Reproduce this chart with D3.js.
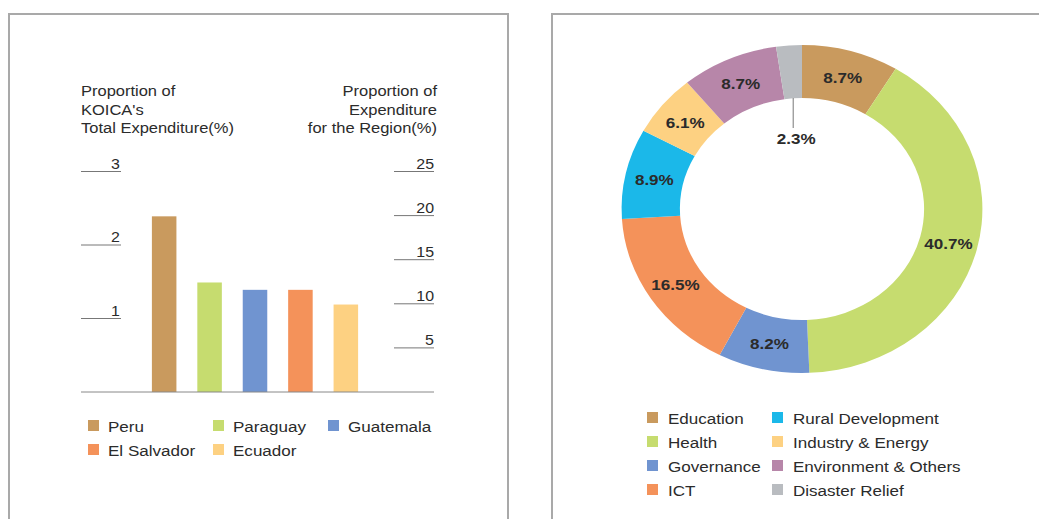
<!DOCTYPE html>
<html>
<head>
<meta charset="utf-8">
<script src="https://cdn.jsdelivr.net/npm/d3@7"></script>
<style>
  body { margin: 0; background: #fff; }
  svg { display: block; font-family: "Liberation Sans", Arial, sans-serif; }
</style>
</head>
<body>
<div id="graphic"></div>
<script>
// bar chart data (left axis: share of KOICA total, %)
const countries = ["Peru", "Paraguay", "Guatemala", "El Salvador", "Ecuador"];
const countryShare = [2.39, 1.49, 1.39, 1.39, 1.19];
const countryColors = ["#c99a5e", "#c6dc6f", "#7094d0", "#f4925a", "#fdd182"];
const leftTicks = [1, 2, 3];
const rightTicks = [5, 10, 15, 20, 25];

// donut data (sector share, %)
const sectors = ["Education", "Health", "Governance", "ICT", "Rural Development",
                 "Industry & Energy", "Environment & Others", "Disaster Relief"];
const sectorShare = [8.7, 40.7, 8.2, 16.5, 8.9, 6.1, 8.7, 2.3];
const sectorColors = ["#c99a5e", "#c6dc6f", "#7094d0", "#f4925a", "#1bb8e9",
                      "#fdd182", "#b786a9", "#b9bcc0"];

const W = 1039, H = 519;
const textColor = "#2b2b2b";
const stretch = 1.1;   // the whole picture is a bit wider than tall

const svg = d3.select("#graphic").append("svg")
    .attr("width", W)
    .attr("height", H);

// text helper, stretched horizontally like the rest of the picture
function label(g, x, y, txt, size, anchor, weight) {
  return g.append("text")
      .attr("transform", "translate(" + x + "," + y + ") scale(" + stretch + ",1)")
      .attr("text-anchor", anchor || "start")
      .attr("font-size", size)
      .attr("font-weight", weight || "normal")
      .attr("fill", textColor)
      .text(txt);
}

// panel frames
svg.append("rect")
    .attr("x", 9).attr("y", 14).attr("width", 499).attr("height", 520)
    .attr("fill", "none").attr("stroke", "#a9a9a9").attr("stroke-width", 2);
svg.append("rect")
    .attr("x", 552).attr("y", 14).attr("width", 500).attr("height", 520)
    .attr("fill", "none").attr("stroke", "#a9a9a9").attr("stroke-width", 2);

// ---------- bar chart ----------
const x0 = 81, x1 = 434, base = 392;

const yLeft = d3.scaleLinear().domain([0, 3]).range([base, base - 220.5]);
const yRight = d3.scaleLinear().domain([0, 25]).range([base, base - 220.5]);
const xBand = d3.scaleBand().domain(countries).range([131, 379]).paddingInner(0.46).paddingOuter(0.46);

const bars = svg.append("g");

// titles
const titleL = ["Proportion of", "KOICA's", "Total Expenditure(%)"];
const titleR = ["Proportion of", "Expenditure", "for the Region(%)"];
titleL.forEach((t, i) => label(bars, x0, 96 + i * 18.5, t, 15, "start"));
titleR.forEach((t, i) => label(bars, 437, 96 + i * 18.5, t, 15, "end"));

// left axis: short underline ticks with label above
leftTicks.forEach(d => {
  bars.append("line").attr("x1", x0).attr("x2", x0 + 40)
      .attr("y1", yLeft(d)).attr("y2", yLeft(d))
      .attr("stroke", "#777").attr("stroke-width", 1);
  label(bars, x0 + 39, yLeft(d) - 3, d, 14.5, "end");
});
rightTicks.forEach(d => {
  bars.append("line").attr("x1", x1 - 40).attr("x2", x1)
      .attr("y1", yRight(d)).attr("y2", yRight(d))
      .attr("stroke", "#777").attr("stroke-width", 1);
  label(bars, x1, yRight(d) - 3, d, 14.5, "end");
});

bars.selectAll(".bar").data(countries).enter().append("rect")
    .attr("x", d => xBand(d))
    .attr("width", xBand.bandwidth())
    .attr("y", (d, i) => yLeft(countryShare[i]))
    .attr("height", (d, i) => base - yLeft(countryShare[i]))
    .attr("fill", (d, i) => countryColors[i]);

bars.append("line").attr("x1", x0).attr("x2", x1).attr("y1", base).attr("y2", base)
    .attr("stroke", "#888").attr("stroke-width", 1);

// bar legend
const barLegPos = [[88, 426], [213, 426], [328, 426], [88, 450], [213, 450]];
countries.forEach((c, i) => {
  const [lx, ly] = barLegPos[i];
  bars.append("rect").attr("x", lx).attr("y", ly - 6).attr("width", 11).attr("height", 11)
      .attr("fill", countryColors[i]);
  label(bars, lx + 20, ly + 6, c, 15.5, "start");
});

// ---------- donut ----------
const cx = 802, cy = 209;
const rOut = 164, rIn = 111;

const pie = d3.pie().sort(null).value(d => d);
const arcs = pie(sectorShare);
const arc = d3.arc().innerRadius(rIn).outerRadius(rOut);

const donut = svg.append("g").attr("transform", "translate(" + cx + "," + cy + ")");
donut.append("g").attr("transform", "scale(" + stretch + ",1)")
    .selectAll("path").data(arcs).enter().append("path")
    .attr("d", arc)
    .attr("fill", (d, i) => sectorColors[i]);

const labelArc = d3.arc().innerRadius((rIn + rOut) / 2).outerRadius((rIn + rOut) / 2);
arcs.slice(0, arcs.length - 1).forEach(d => {
  const c = labelArc.centroid(d);
  label(donut, c[0] * stretch, c[1] + 6, d.value.toFixed(1) + "%", 15.5, "middle", "bold");
});

// small slice: leader line into the hole
const last = arcs[arcs.length - 1];
const midA = (last.startAngle + last.endAngle) / 2;
const lx = Math.sin(midA) * rIn * stretch;
donut.append("line")
    .attr("x1", lx).attr("x2", lx)
    .attr("y1", -rIn).attr("y2", -rIn + 30)
    .attr("stroke", "#777").attr("stroke-width", 1);
label(donut, lx + 3, -rIn + 46, last.value.toFixed(1) + "%", 15.5, "middle", "bold");

// donut legend
const legCols = [647, 772], legRows = [418, 442, 466, 490];
sectors.forEach((s, i) => {
  const gx = legCols[Math.floor(i / 4)], gy = legRows[i % 4];
  svg.append("rect").attr("x", gx).attr("y", gy - 6).attr("width", 11).attr("height", 11)
      .attr("fill", sectorColors[i]);
  label(svg, gx + 21, gy + 6, s, 15.5, "start");
});
</script>
</body>
</html>
